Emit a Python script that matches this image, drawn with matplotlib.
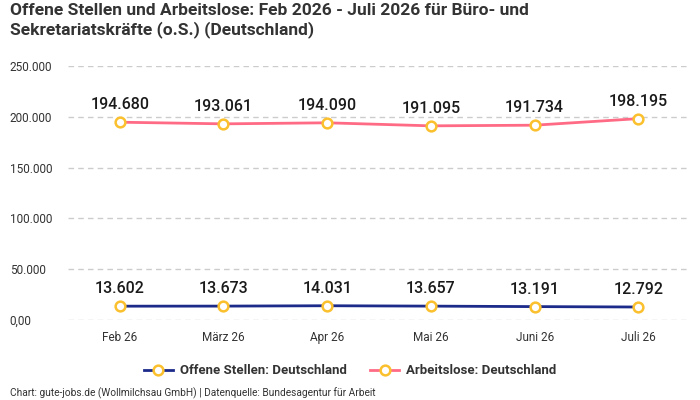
import numpy as np
import matplotlib
matplotlib.use("Agg")
import matplotlib.pyplot as plt
from matplotlib.lines import Line2D

# Data
months = ["Feb 26", "März 26", "Apr 26", "Mai 26", "Juni 26", "Juli 26"]
offene_stellen = [13602, 13673, 14031, 13657, 13191, 12792]
arbeitslose = [194680, 193061, 194090, 191095, 191734, 198195]
y_ticks = [0, 50000, 100000, 150000, 200000, 250000]

plt.rcParams['font.family'] = ['Roboto', 'DejaVu Sans']

def de_fmt(v):
    if v == 0:
        return "0,00"
    return f"{v:,.0f}".replace(",", ".")

navy = "#1c2a8a"
pink = "#ff6b85"
marker_edge = "#fbc02d"

fig = plt.figure(figsize=(7, 4), dpi=100)
ax = fig.add_axes([0.097, 0.2, 0.889, 0.635])

x = np.arange(len(months))
ax.plot(x, offene_stellen, color=navy, lw=2, marker="o", ms=7,
        mfc="white", mec=marker_edge, mew=1.8, zorder=3)
ax.plot(x, arbeitslose, color=pink, lw=2, marker="o", ms=7,
        mfc="white", mec=marker_edge, mew=1.8, zorder=3)

for series in (offene_stellen, arbeitslose):
    for xi, v in zip(x, series):
        ax.annotate(de_fmt(v), (xi, v), xytext=(0, 7), textcoords="offset points",
                    ha="center", va="bottom", fontsize=11.5, color="#1a1a1a",
                    fontweight="medium")

ax.set_xlim(-0.5, len(months) - 0.5)
ax.set_ylim(0, 250000)
ax.set_xticks(x)
ax.set_xticklabels(months)
ax.set_yticks(y_ticks)
ax.set_yticklabels([de_fmt(v) for v in y_ticks])
for lbl in ax.get_yticklabels():
    lbl.set_horizontalalignment("left")
for lbl in ax.get_xticklabels():
    lbl.set_verticalalignment("baseline")
ax.tick_params(axis="y", length=0, pad=42, labelsize=8.5, labelcolor="#333333")
ax.tick_params(axis="x", length=0, pad=15, labelsize=8.5, labelcolor="#333333")
ax.grid(axis="y", color="#cccccc", ls=(0, (4, 3)), lw=1)
ax.set_axisbelow(True)
for s in ax.spines.values():
    s.set_visible(False)

fig.text(10 / 700, 1 - 3 / 400,
         "Offene Stellen und Arbeitslose: Feb 2026 - Juli 2026 für Büro- und\n"
         "Sekretariatskräfte (o.S.) (Deutschland)",
         ha="left", va="top", fontsize=12.5, fontweight="bold", color="#333333",
         linespacing=1.25)

handles = [
    Line2D([], [], color=navy, lw=2, marker="o", ms=7, mfc="white",
           mec=marker_edge, mew=1.8),
    Line2D([], [], color=pink, lw=2, marker="o", ms=7, mfc="white",
           mec=marker_edge, mew=1.8),
]
fig.legend(handles, ["Offene Stellen: Deutschland", "Arbeitslose: Deutschland"],
           loc="center", bbox_to_anchor=(0.5, 1 - 371 / 400), ncol=2,
           frameon=False, handlelength=2.2, handletextpad=0.5, columnspacing=1.8,
           prop={"weight": "bold", "size": 9.5}, labelcolor="#333333")

fig.text(10 / 700, 1 - 393 / 400,
         "Chart: gute-jobs.de (Wollmilchsau GmbH) | Datenquelle: Bundesagentur für Arbeit",
         ha="left", va="center", fontsize=7.3, color="#333333")

fig.savefig("out.png", dpi=100)
